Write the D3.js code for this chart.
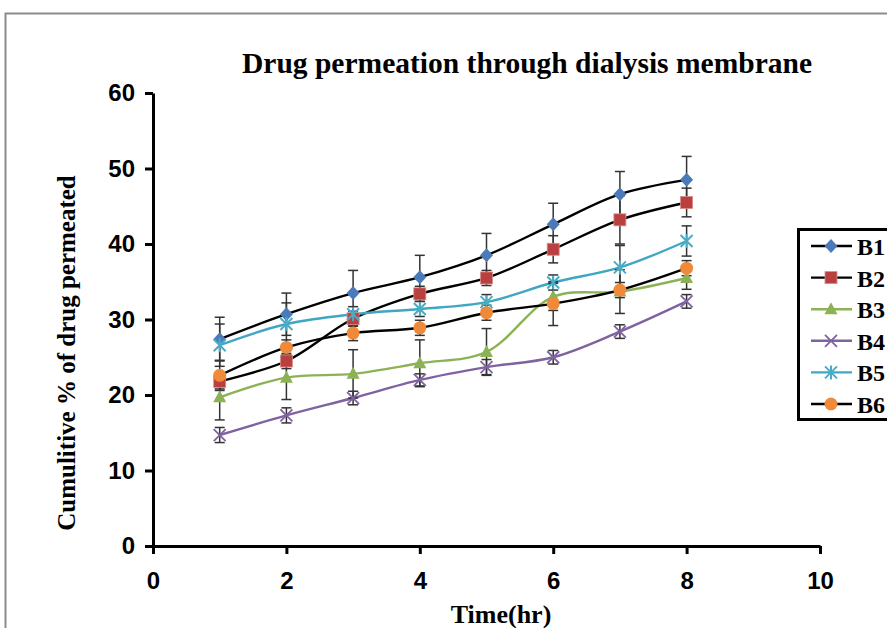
<!DOCTYPE html>
<html>
<head>
<meta charset="utf-8">
<script src="https://cdn.jsdelivr.net/npm/d3@7"></script>
<style>
body { margin: 0; background: #fff; }
svg { display: block; }
</style>
</head>
<body>
<div id="chart"></div>
<script>
var wi = 887;
var he = 628;

// data
var times = [1, 2, 3, 4, 5, 6, 7, 8];
var names = ["B1", "B2", "B3", "B4", "B5", "B6"];
var b1 = [27.4, 30.7, 33.5, 35.6, 38.5, 42.6, 46.6, 48.5];
var b2 = [21.8, 24.5, 30.1, 33.4, 35.5, 39.3, 43.2, 45.5];
var b3 = [19.7, 22.3, 22.8, 24.2, 25.7, 33.0, 33.7, 35.5];
var b4 = [14.7, 17.3, 19.6, 22.0, 23.7, 25.0, 28.4, 32.4];
var b5 = [26.6, 29.4, 30.7, 31.4, 32.3, 34.9, 36.9, 40.4];
var b6 = [22.6, 26.3, 28.2, 28.9, 30.9, 32.1, 33.9, 36.8];
var e1 = [2.9, 2.8, 3.0, 2.9, 2.9, 2.8, 3.0, 3.1];
var e2 = [1.0, 1.0, 1.0, 1.0, 1.0, 1.8, 3.2, 1.9];
var e3 = [3.0, 2.9, 3.2, 3.1, 3.1, 1.8, 2.9, 1.5];
var e4 = [1.0, 1.0, 0.9, 0.8, 1.0, 0.9, 0.9, 0.9];
var e5 = [2.8, 2.8, 1.0, 1.0, 1.0, 1.0, 2.9, 2.0];
var e6 = [2.0, 1.0, 1.0, 1.0, 1.0, 2.9, 1.0, 1.0];
var xTicks = [0, 2, 4, 6, 8, 10];
var yTicks = [0, 10, 20, 30, 40, 50, 60];

var values = [b1, b2, b3, b4, b5, b6];
var errors = [e1, e2, e3, e4, e5, e6];
var lineColors = ["#000", "#000", "#8db255", "#7f62a0", "#3fa7c1", "#000"];
var markColors = ["#4a7ab8", "#b9403e", "#8db255", "#8064a2", "#4bacc6", "#ef8a3a"];
var shapes = ["diamond", "square", "triangle", "cross", "star", "circle"];

var svg = d3.select("#chart").append("svg")
    .attr("width", wi)
    .attr("height", he);

// outer frame, cut by the picture's edges
svg.append("rect")
    .attr("x", 5.5).attr("y", 13.5)
    .attr("width", 1000).attr("height", 1000)
    .attr("fill", "none")
    .attr("stroke", "#8c8c8c")
    .attr("stroke-width", 2);

var xScale = d3.scaleLinear().domain([0, 10]).range([153, 820]);
var yScale = d3.scaleLinear().domain([0, 60]).range([546, 93]);

var xAxis = d3.axisBottom(xScale).tickValues(xTicks).tickSize(8).tickSizeOuter(0).tickPadding(18);
var yAxis = d3.axisLeft(yScale).tickValues(yTicks).tickSize(8).tickSizeOuter(0).tickPadding(10);

var gx = svg.append("g")
    .attr("transform", "translate(0," + yScale(0) + ")")
    .call(xAxis);
var gy = svg.append("g")
    .attr("transform", "translate(" + xScale(0) + ",0)")
    .call(yAxis);

[gx, gy].forEach(function(g) {
  g.selectAll("path, line").attr("stroke", "#000").attr("stroke-width", 3);
  g.selectAll("text")
      .attr("fill", "#000")
      .style("font-family", "'Liberation Sans', sans-serif")
      .style("font-weight", "bold")
      .style("font-size", "24px");
});

// titles
svg.append("text")
    .attr("x", 527).attr("y", 73)
    .attr("text-anchor", "middle")
    .attr("textLength", 570)
    .attr("lengthAdjust", "spacingAndGlyphs")
    .style("font-family", "'Liberation Serif', serif")
    .style("font-weight", "bold")
    .style("font-size", "30px")
    .text("Drug permeation through dialysis membrane");

svg.append("text")
    .attr("x", 501).attr("y", 623)
    .attr("text-anchor", "middle")
    .style("font-family", "'Liberation Serif', serif")
    .style("font-weight", "bold")
    .style("font-size", "26px")
    .text("Time(hr)");

svg.append("text")
    .attr("transform", "translate(75,353) rotate(-90)")
    .attr("text-anchor", "middle")
    .style("font-family", "'Liberation Serif', serif")
    .style("font-weight", "bold")
    .style("font-size", "25px")
    .text("Cumulitive % of drug permeated");

function drawMarker(g, shape, color, x, y) {
  if (shape == "diamond") {
    g.append("path").attr("d", "M" + x + "," + (y - 7) + "L" + (x + 6.5) + "," + y + "L" + x + "," + (y + 7) + "L" + (x - 6.5) + "," + y + "Z")
        .attr("fill", color);
  } else if (shape == "square") {
    g.append("rect").attr("x", x - 6).attr("y", y - 6).attr("width", 12).attr("height", 12)
        .attr("fill", color).attr("stroke", "#d98c8a").attr("stroke-width", 0.8);
  } else if (shape == "triangle") {
    g.append("path").attr("d", "M" + x + "," + (y - 7) + "L" + (x + 6.5) + "," + (y + 5) + "L" + (x - 6.5) + "," + (y + 5) + "Z")
        .attr("fill", color);
  } else if (shape == "circle") {
    g.append("circle").attr("cx", x).attr("cy", y).attr("r", 6.5).attr("fill", color);
  } else if (shape == "cross") {
    g.append("path").attr("d", "M" + (x - 6) + "," + (y - 6) + "L" + (x + 6) + "," + (y + 6) + "M" + (x + 6) + "," + (y - 6) + "L" + (x - 6) + "," + (y + 6))
        .attr("stroke", color).attr("stroke-width", 1.8).attr("fill", "none");
  } else if (shape == "star") {
    g.append("path").attr("d", "M" + (x - 6) + "," + (y - 6) + "L" + (x + 6) + "," + (y + 6) + "M" + (x + 6) + "," + (y - 6) + "L" + (x - 6) + "," + (y + 6) + "M" + x + "," + (y - 7) + "L" + x + "," + (y + 7))
        .attr("stroke", color).attr("stroke-width", 2).attr("fill", "none");
  }
}

var line = d3.line()
    .x(function(d) { return xScale(d[0]); })
    .y(function(d) { return yScale(d[1]); })
    .curve(d3.curveCatmullRom.alpha(0.5));

var plot = svg.append("g");

values.forEach(function(vals, s) {
  var pts = times.map(function(t, i) { return [t, vals[i]]; });
  plot.append("path")
      .datum(pts)
      .attr("d", line)
      .attr("fill", "none")
      .attr("stroke", lineColors[s])
      .attr("stroke-width", 2.4);
});

// error bars
values.forEach(function(vals, s) {
  times.forEach(function(t, i) {
    var x = xScale(t);
    var y0 = yScale(vals[i] - errors[s][i]);
    var y1 = yScale(vals[i] + errors[s][i]);
    var eb = plot.append("g").attr("stroke", "#333").attr("stroke-width", 1.5);
    eb.append("line").attr("x1", x).attr("x2", x).attr("y1", y0).attr("y2", y1);
    eb.append("line").attr("x1", x - 5).attr("x2", x + 5).attr("y1", y0).attr("y2", y0);
    eb.append("line").attr("x1", x - 5).attr("x2", x + 5).attr("y1", y1).attr("y2", y1);
  });
});

values.forEach(function(vals, s) {
  var mg = plot.append("g");
  times.forEach(function(t, i) {
    drawMarker(mg, shapes[s], markColors[s], xScale(t), yScale(vals[i]));
  });
});

// legend
var legend = svg.append("g");
legend.append("rect")
    .attr("x", 798.5).attr("y", 229.5)
    .attr("width", 200).attr("height", 190)
    .attr("fill", "#fff")
    .attr("stroke", "#000")
    .attr("stroke-width", 3);

names.forEach(function(n, s) {
  var y = 246 + s * 31.6;
  legend.append("line")
      .attr("x1", 811).attr("x2", 852)
      .attr("y1", y).attr("y2", y)
      .attr("stroke", lineColors[s])
      .attr("stroke-width", 2.4);
  drawMarker(legend, shapes[s], markColors[s], 831, y);
  legend.append("text")
      .attr("x", 857).attr("y", y + 9)
      .style("font-family", "'Liberation Serif', serif")
      .style("font-weight", "bold")
      .style("font-size", "24px")
      .text(n);
});
</script>
</body>
</html>
